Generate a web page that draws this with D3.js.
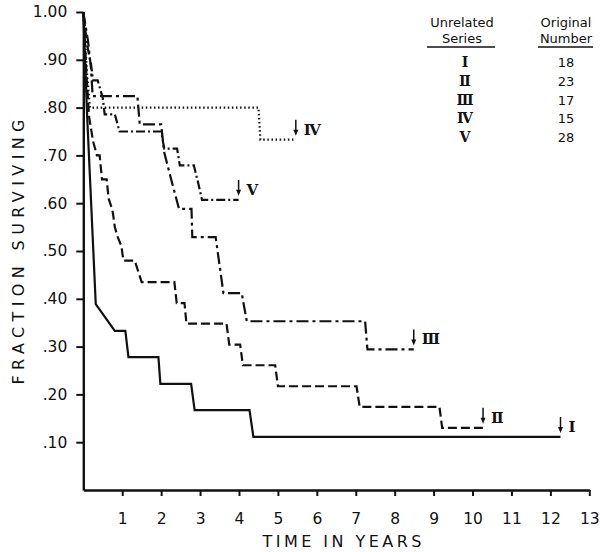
<!DOCTYPE html>
<html>
<head>
<meta charset="utf-8">
<script src="https://cdn.jsdelivr.net/npm/d3@7"></script>
<style>
  body { margin: 0; background: #fff; }
  svg { display: block; font-family: "DejaVu Sans", sans-serif; }
</style>
</head>
<body>
<svg id="chart" width="600" height="552"></svg>
<script>
// legend table
const seriesNames = ['Ⅰ', 'Ⅱ', 'Ⅲ', 'Ⅳ', 'Ⅴ'];
const originalNumber = [18, 23, 17, 15, 28];

// axis ticks
const xTicks = [1, 2, 3, 4, 5, 6, 7, 8, 9, 10, 11, 12, 13];
const yTicks = [0.1, 0.2, 0.3, 0.4, 0.5, 0.6, 0.7, 0.8, 0.9, 1.0];

// traced survival curves: time (years) and fraction surviving at each vertex
const timeI = [0, 0.1, 0.32, 0.81, 1.08, 1.16, 1.93, 1.98, 2.77, 2.86, 4.27, 4.37, 12.26];
const survI = [1, 0.78, 0.389, 0.333, 0.333, 0.278, 0.278, 0.222, 0.222, 0.167, 0.167, 0.111, 0.111];

const timeII = [0, 0.03, 0.08, 0.15, 0.25, 0.35, 0.42, 0.48, 0.6, 0.65, 0.73, 0.76, 0.81, 0.88, 0.98, 1.03, 1.32, 1.5, 2.34, 2.4, 2.6, 2.65, 3.68, 3.75, 4.03, 4.1, 4.93, 5.0, 7.02, 7.1, 9.15, 9.22, 10.27];
const survII = [1, 0.96, 0.87, 0.78, 0.73, 0.70, 0.70, 0.65, 0.65, 0.61, 0.59, 0.58, 0.55, 0.53, 0.51, 0.48, 0.48, 0.435, 0.435, 0.391, 0.391, 0.348, 0.348, 0.304, 0.304, 0.261, 0.261, 0.217, 0.217, 0.174, 0.174, 0.130, 0.130];

const timeIII = [0, 0.12, 0.2, 0.24, 1.39, 1.45, 2.0, 2.08, 2.26, 2.46, 2.78, 2.8, 3.4, 3.6, 4.07, 4.2, 7.24, 7.3, 8.49];
const survIII = [1, 0.94, 0.88, 0.824, 0.824, 0.765, 0.765, 0.706, 0.649, 0.588, 0.588, 0.529, 0.529, 0.412, 0.412, 0.353, 0.353, 0.294, 0.294];

const timeIV = [0, 0.05, 0.1, 0.17, 4.5, 4.55, 5.46];
const survIV = [1, 0.933, 0.867, 0.8, 0.8, 0.733, 0.733];

const timeV = [0, 0.1, 0.2, 0.25, 0.37, 0.5, 0.55, 0.81, 0.93, 2.0, 2.08, 2.41, 2.48, 2.84, 2.95, 3.05, 3.99];
const survV = [1, 0.93, 0.89, 0.857, 0.857, 0.82, 0.786, 0.786, 0.75, 0.75, 0.714, 0.714, 0.679, 0.679, 0.643, 0.607, 0.607];

const curves = [
  { name: seriesNames[0], t: timeI, s: survI, dash: null },
  { name: seriesNames[1], t: timeII, s: survII, dash: '9,4' },
  { name: seriesNames[2], t: timeIII, s: survIII, dash: '12,4,3,4' },
  { name: seriesNames[3], t: timeIV, s: survIV, dash: '1.5,2.6' },
  { name: seriesNames[4], t: timeV, s: survV, dash: '9,3,2,3' }
];

const svg = d3.select('#chart');
const ink = '#111';

const x = d3.scaleLinear().domain([0, 13]).range([83.3, 589.3]);
const y = d3.scaleLinear().domain([0, 1]).range([490, 12]);

// axes
const xAxis = d3.axisBottom(x).tickValues(xTicks).tickSize(6).tickSizeOuter(0).tickPadding(17);
const yAxis = d3
  .axisLeft(y)
  .tickValues(yTicks)
  .tickSize(7)
  .tickSizeOuter(0)
  .tickPadding(9)
  .tickFormat((d) => (d === 1 ? '1.00' : d3.format('.2f')(d).slice(1)));

const gx = svg.append('g').attr('transform', 'translate(0,490)').call(xAxis);
const gy = svg.append('g').attr('transform', 'translate(83.3,0)').call(yAxis);

[gx, gy].forEach((g) => {
  g.select('.domain').attr('stroke', ink).attr('stroke-width', 2.4);
  g.selectAll('.tick line').attr('stroke', ink).attr('stroke-width', 2);
  g.selectAll('.tick text').attr('fill', ink).attr('font-size', 15.5).attr('font-family', '"DejaVu Sans", sans-serif');
});

// axis titles
svg
  .append('text')
  .attr('x', 342)
  .attr('y', 547)
  .attr('text-anchor', 'middle')
  .attr('font-size', 16)
  .attr('fill', ink)
  .attr('textLength', 159)
  .attr('lengthAdjust', 'spacing')
  .text('TIME IN YEARS');

svg
  .append('text')
  .attr('transform', 'translate(24,252) rotate(-90)')
  .attr('text-anchor', 'middle')
  .attr('font-size', 16)
  .attr('fill', ink)
  .attr('textLength', 265)
  .attr('lengthAdjust', 'spacing')
  .text('FRACTION SURVIVING');

// curves
const line = d3
  .line()
  .x((d) => x(d[0]))
  .y((d) => y(d[1]));

const gc = svg.append('g');
curves.forEach((c) => {
  const pts = c.t.map((t, i) => [t, c.s[i]]);
  gc.append('path')
    .attr('d', line(pts))
    .attr('fill', 'none')
    .attr('stroke', ink)
    .attr('stroke-width', 2.2)
    .attr('stroke-dasharray', c.dash);

  // censoring arrow and series label at the end of each curve
  const ex = x(c.t[c.t.length - 1]);
  const ey = y(c.s[c.s.length - 1]);
  gc.append('line')
    .attr('x1', ex)
    .attr('x2', ex)
    .attr('y1', ey - 20)
    .attr('y2', ey - 9)
    .attr('stroke', ink)
    .attr('stroke-width', 1.5);
  gc.append('path')
    .attr('d', `M${ex - 2.5},${ey - 10}L${ex + 2.5},${ey - 10}L${ex},${ey - 4}Z`)
    .attr('fill', ink);
  gc.append('text')
    .attr('x', ex + 8)
    .attr('y', ey - 5)
    .attr('font-family', '"DejaVu Serif", serif')
    .attr('font-weight', 'bold')
    .attr('font-size', 15)
    .attr('fill', ink)
    .text(c.name);
});

// legend table
const lg = svg.append('g').attr('font-size', 13).attr('fill', ink).attr('text-anchor', 'middle');
const colSeries = 462;
const colNumber = 566;
lg.append('text').attr('x', colSeries).attr('y', 27).text('Unrelated');
lg.append('text').attr('x', colSeries).attr('y', 43).text('Series');
lg.append('text').attr('x', colNumber).attr('y', 27).text('Original');
lg.append('text').attr('x', colNumber).attr('y', 43).text('Number');
lg.append('line').attr('x1', 427).attr('x2', 495).attr('y1', 47).attr('y2', 47).attr('stroke', ink).attr('stroke-width', 1.5);
lg.append('line').attr('x1', 538).attr('x2', 593).attr('y1', 47).attr('y2', 47).attr('stroke', ink).attr('stroke-width', 1.5);

seriesNames.forEach((n, i) => {
  const ry = 67 + i * 18.8;
  lg.append('text')
    .attr('x', colSeries + 3)
    .attr('y', ry)
    .attr('font-family', '"DejaVu Serif", serif')
    .attr('font-weight', 'bold')
    .attr('font-size', 14)
    .text(n);
  lg.append('text').attr('x', colNumber).attr('y', ry).text(originalNumber[i]);
});
</script>
</body>
</html>
